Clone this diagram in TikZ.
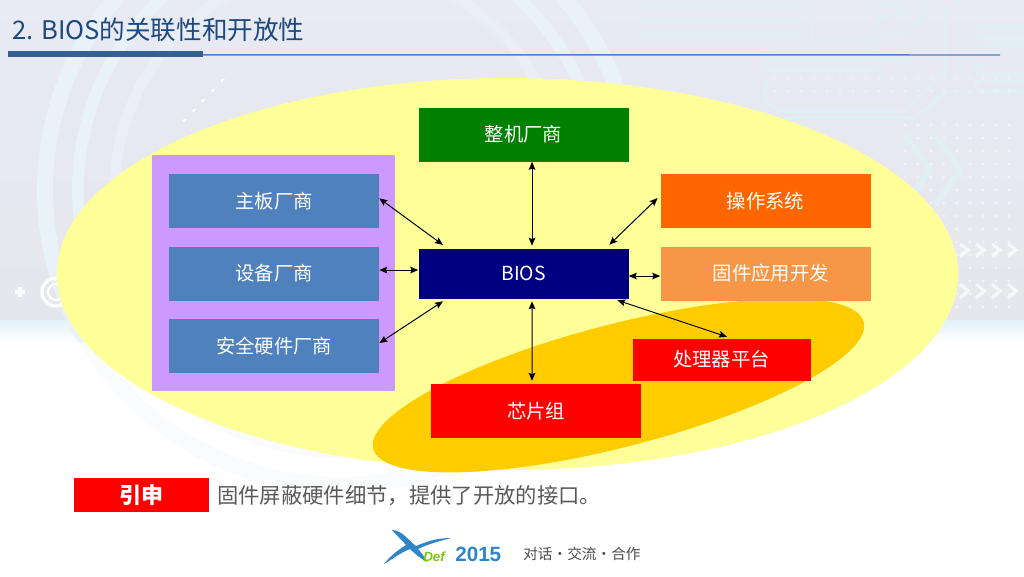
\documentclass[tikz,border=0pt]{standalone}
\usepackage{fontspec}
\setmainfont{Noto Sans CJK SC}
\setsansfont{Liberation Sans}
\usepackage{xcolor}
\usetikzlibrary{arrows.meta,positioning,shapes.geometric,calc}
\definecolor{titleblue}{HTML}{1F497D}
\definecolor{barblue}{HTML}{376092}
\definecolor{lineblue}{HTML}{4F81BD}
\definecolor{bgtop}{HTML}{E8EAF4}
\definecolor{bgmid}{HTML}{E6E7EC}
\definecolor{bgband}{HTML}{E2F1F9}
\definecolor{traceblue}{HTML}{E2EEF6}
\definecolor{arcblue}{HTML}{E9F1F9}
\definecolor{ellyellow}{HTML}{FFFF99}
\definecolor{ellorange}{HTML}{FFCC00}
\definecolor{vendorpurple}{HTML}{CC99FF}
\definecolor{vendorblue}{HTML}{4F81BD}
\definecolor{bioblue}{HTML}{000080}
\definecolor{osorange}{HTML}{FF6600}
\definecolor{fwrange}{HTML}{F79646}
\definecolor{boxgreen}{HTML}{008000}
\definecolor{logoblue}{HTML}{2E86C8}
\definecolor{logogreen}{HTML}{7AC70C}

\begin{document}
\begin{tikzpicture}[
    x=0.75pt, y=-0.75pt,
    font=\fontsize{14.5pt}{17pt}\selectfont,
    box/.style={minimum width=157.5pt, minimum height=40.5pt, inner sep=0pt, text=white, fill=vendorblue},
    chip/.style={box, fill=red},
    trace/.style={traceblue, line width=2.6pt, line join=round},
    arrow/.style={{Stealth[length=6pt,width=5pt,inset=1pt]}-{Stealth[length=6pt,width=5pt,inset=1pt]}, line width=0.75pt, black}
]
\useasboundingbox (0,0) rectangle (1024,576);
% background
\fill[white] (0,0) rectangle (1024,576);
\fill[top color=bgtop, bottom color=bgmid] (0,0) rectangle (1024,320);
\fill[top color=bgband, bottom color=white] (0,320) rectangle (1024,342);
\begin{scope}
\clip (0,0) rectangle (1024,500);
\draw[arcblue, line width=12pt] (340,190) circle[radius=295];
\draw[arcblue, line width=9pt] (340,190) circle[radius=262];
\draw[arcblue!60!bgtop, line width=8pt] (340,190) circle[radius=225];
\fill[white, opacity=.75] (0,342) rectangle (1024,500);
\end{scope}
\draw[arcblue, line width=4pt] (352,148) arc[start angle=170, end angle=60, radius=34];
\foreach \y in {80,90,...,120} {
  \fill[white] ({220-(\y-80)*.95},\y) -- ++(5,-1.5) -- ++(-3,4) -- cycle;
}
% circuit
\draw[trace] (640,6) -- (800,6) (640,20) -- (800,20) (640,35) -- (800,35);
\draw[trace, line width=1.5pt] (812,-2) rectangle (878,42);
\draw[trace] (878,6) -- (905,6) (878,20) -- (915,8) (878,35) -- (905,35) -- (925,15) -- (925,0);
\draw[trace] (765,60) -- (885,60) -- (915,60) (765,55) rectangle (880,70);
\draw[trace] (775,72) -- (765,85) -- (765,100) -- (780,112) -- (905,112) -- (945,70) -- (945,10) -- (960,0);
\draw[trace] (770,118) -- (915,118) -- (945,92) -- (1024,92);
\draw[trace, rounded corners=4pt] (1024,27) -- (975,27) -- (975,38) -- (1024,38);
\draw[trace, rounded corners=4pt] (1024,45) -- (975,45) -- (975,53);
\draw[trace, rounded corners=4pt] (1024,64) -- (975,64) -- (975,73) -- (1024,73);
\draw[trace, rounded corners=4pt] (1024,80) -- (975,80) -- (975,90) -- (1024,90);
\foreach \y in {78,91} \foreach \x in {775,788,...,1015} {
  \fill[bgtop!70!white] (\x,\y) circle[radius=1.6];
}
\foreach \y in {125,138,...,310} \foreach \x in {905,918,...,1020} {
  \fill[bgtop!60!white] (\x,\y) circle[radius=1.6];
}
\draw[traceblue, line width=5pt, line join=miter] (905,135) -- (930,170) -- (905,205) (935,135) -- (960,170) -- (935,205);
\foreach \i in {0,1,2,3} {
  \draw[white!60!traceblue, line width=2.5pt] ({960+\i*16},244) -- ({968+\i*16},250) -- ({960+\i*16},256);
  \draw[white!60!traceblue, line width=2.5pt] ({960+\i*16},284) -- ({968+\i*16},291) -- ({960+\i*16},298);
}
\draw[white, line width=2.6pt] (15,292) -- (25,292) (20,287) -- (20,297);
\draw[white, line width=2.4pt] (56,292) circle[radius=14];
\draw[white, line width=1.6pt] (56,292) circle[radius=8];

% title
\node[anchor=west, inner sep=0pt, text=titleblue, font=\fontsize{19.2pt}{22pt}\selectfont] (title) at (12,30) {2. BIOS的关联性和开放性};
\coordinate (ruleend) at (1000,55);
\fill[barblue] (8,51) rectangle (203,56.5);
\draw[lineblue, line width=1.1pt] (203,54.8) -- (ruleend);

% ellipses
\node[ellipse, fill=ellyellow, minimum width=676pt, minimum height=294pt, inner sep=0pt] (scope) at (507.5,274) {};
\node[ellipse, fill=ellorange, minimum width=380pt, minimum height=92pt, inner sep=0pt, rotate=14.5] (platform) at (618.5,385.5) {};

% vendors
\node[fill=vendorpurple, minimum width=182pt, minimum height=177pt, inner sep=0pt] (vendors) at (273.5,273) {};
\node[box] (board) at (274,201) {主板厂商};
\node[box] (device) at (274,273.5) {设备厂商};
\node[box] (secure) at (274,346) {安全硬件厂商};

\node[box, fill=boxgreen] (oem) at (523.5,134.5) {整机厂商};
\node[box, fill=bioblue, minimum height=37.5pt] (bios) at (523.5,273.5) {BIOS};
\node[box, fill=osorange] (os) at (765.5,201) {操作系统};
\node[box, fill=fwrange, text width=157.5pt, align=center] (fwapp) at (765.5,273.5) {\hspace*{8pt}固件应用开发};
\node[chip, minimum width=133.5pt, minimum height=31.5pt] (cpu) at (721.5,359.5) {处理器平台};
\node[chip] (chipset) at (536,411) {芯片组};

\draw[arrow] ([yshift=2pt]board.east) -- ([xshift=18.5pt,yshift=2.5pt]bios.north west);
\draw[arrow] ([yshift=2.6pt]device.east) -- ([yshift=2.6pt]bios.west);
\draw[arrow] ([yshift=2.2pt]secure.east) -- ([xshift=18.5pt,yshift=-1.9pt]bios.south west);
\draw[arrow] ([xshift=6.4pt]oem.south) -- ([xshift=6.4pt,yshift=1.9pt]bios.north);
\draw[arrow] ([xshift=-2pt,yshift=2.2pt]os.west) -- ([xshift=-14.6pt,yshift=2.6pt]bios.north east);
\draw[arrow] ([yshift=-1.9pt]bios.east) -- ([yshift=-1.9pt]fwapp.west);
\draw[arrow] ([xshift=6.4pt,yshift=-1.9pt]bios.south) -- ([xshift=-3pt,yshift=2.2pt]chipset.north);
\draw[arrow] ([xshift=-8.6pt,yshift=-1.1pt]bios.south east) -- ([xshift=4.1pt,yshift=1.1pt]cpu.north);

% bottom line
\node[fill=red, text=white, font=\fontsize{16.5pt}{19pt}\selectfont\bfseries, minimum width=101pt, minimum height=25.5pt, inner sep=0pt] (lead) at (141.5,495) {引申};
\node[anchor=west, inner sep=0pt, text=black!65, font=\fontsize{16pt}{19pt}\selectfont] (leadtext) at (217,496) {固件屏蔽硬件细节，提供了开放的接口。};

% logo
\fill[logoblue] (392,530) .. controls (402,530) and (408,540) .. (416,546) .. controls (430,540) and (440,538) .. (451,538) .. controls (440,541) and (428,544) .. (418,549) .. controls (422,553) and (425,558) .. (427,562) .. controls (420,558) and (414,553) .. (410,549) .. controls (400,553) and (391,560) .. (384,564) .. controls (390,556) and (398,550) .. (406,545) .. controls (402,540) and (396,535) .. (392,530) -- cycle;
\node[anchor=base west, inner sep=0pt, text=logogreen, font=\sffamily\bfseries\itshape\fontsize{10pt}{12pt}\selectfont] (logodef) at (423,561) {Def};
\node[anchor=base west, inner sep=0pt, text=logoblue, font=\sffamily\bfseries\fontsize{15.5pt}{18pt}\selectfont] (logoyear) at (455,561) {2015};
\node[anchor=west, inner sep=0pt, text=black!70, font=\fontsize{11pt}{14pt}\selectfont] (motto) at (523,553.5) {对话·交流·合作};
\end{tikzpicture}
\end{document}
